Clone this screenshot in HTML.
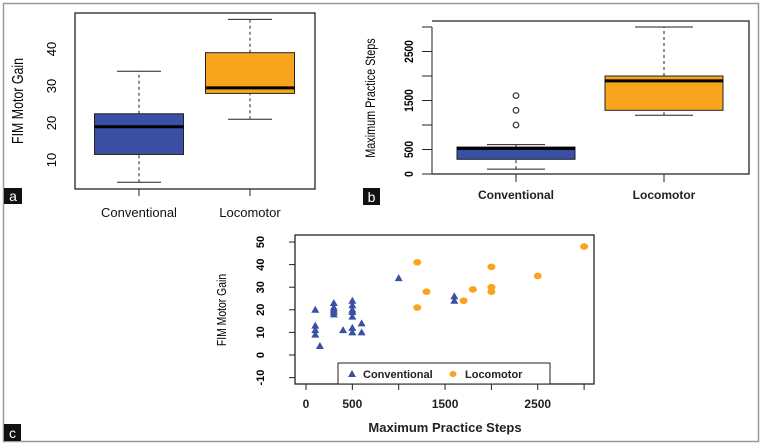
<!DOCTYPE html>
<html><head><meta charset="utf-8"><style>
body{margin:0;background:#fff}
svg{display:block;font-family:"Liberation Sans",sans-serif}
</style></head><body>
<svg id="s" width="763" height="446" viewBox="0 0 763 446">
<rect x="3.5" y="3.5" width="755" height="438" fill="#fff" stroke="#999" stroke-width="1.5"/>
</svg>
<script>
// Panel a data
const catsA = ["Conventional","Locomotor"];
const statsA = [[4,11.5,19,22.5,34],[21,28,29.5,39,48]];
const ticksA = [10,20,30,40];
// Panel b data
const catsB = ["Conventional","Locomotor"];
const statsB = [[100,300,520,550,600],[1200,1300,1900,2000,3000]];
const outliersB = [[1000,1300,1600],[]];
const ticksB = [0,500,1500,2500];
// Panel c data
const convX = [100,100,100,100,150,300,300,300,300,300,400,500,500,500,500,500,500,500,600,600,1000,1600,1600];
const convY = [20,13,11,9,4,23,21,20,19,18,11,24,22,20,19,17,12,10,14,10,34,26,24];
const locoX = [1200,1200,1300,1700,1800,2000,2000,2000,2500,3000];
const locoY = [41,21,28,24,29,39,30,28,35,48];
const ticksCx = [0,500,1500,2500];
const ticksCxMarks = [0,500,1000,1500,2000,2500,3000];
const ticksCy = [-10,0,10,20,30,40,50];

const colors=["#3a50a4","#f8a51d"];
const s=document.getElementById('s');
const NS="http://www.w3.org/2000/svg";
function el(t,a,name,txt){const e=document.createElementNS(NS,t);for(const k in a)e.setAttribute(k,a[k]);


if(txt!==undefined)e.textContent=txt;s.appendChild(e);return e;}

// ---- Panel a ----
const yA=v=>160-(v-10)*3.7;
const cxA=[139,250];
el('rect',{x:75,y:13,width:240,height:176,fill:'none',stroke:'#222','stroke-width':1.3},'plot-a-frame');
catsA.forEach((c,i)=>{const st=statsA[i],cx=cxA[i];
 el('line',{x1:cx,x2:cx,y1:yA(st[0]),y2:yA(st[1]),stroke:'#222','stroke-dasharray':'3,3'},'whisker-low-'+i);
 el('line',{x1:cx,x2:cx,y1:yA(st[3]),y2:yA(st[4]),stroke:'#222','stroke-dasharray':'3,3'},'whisker-high-'+i);
 el('line',{x1:cx-22,x2:cx+22,y1:yA(st[0]),y2:yA(st[0]),stroke:'#222'},'whisker-cap-low-'+i);
 el('line',{x1:cx-22,x2:cx+22,y1:yA(st[4]),y2:yA(st[4]),stroke:'#222'},'whisker-cap-high-'+i);
 el('rect',{x:cx-44.5,y:yA(st[3]),width:89,height:yA(st[1])-yA(st[3]),fill:colors[i],stroke:'#222'},'box-a-'+c.toLowerCase());
 el('line',{x1:cx-44.5,x2:cx+44.5,y1:yA(st[2]),y2:yA(st[2]),stroke:'#000','stroke-width':3},'median-a-'+i);
 el('line',{x1:cx,x2:cx,y1:189,y2:196,stroke:'#222'},'x-tick-a-'+i);
 el('text',{x:cx,y:217,'text-anchor':'middle','font-size':13,fill:'#111'},'x-label-a-'+i,c);
});
ticksA.forEach(t=>{el('text',{x:0,y:0,transform:`translate(56,${yA(t)}) rotate(-90)`,'text-anchor':'middle','font-size':13},'y-tick-a',t);});
el('text',{x:0,y:0,transform:'translate(23,101) rotate(-90) scale(0.8,1)','text-anchor':'middle','font-size':15.5},'y-axis-title-a','FIM Motor Gain');
el('rect',{x:4,y:188,width:18,height:16,fill:'#111'},'panel-a-badge');
el('text',{x:13,y:201,'text-anchor':'middle','font-size':14,fill:'#fff'},'panel-a-label','a');

// ---- Panel b ----
const yB=v=>174-v*0.049;
const cxB=[516,664];
el('polyline',{points:'432,21 749,21 749,174 432,174',fill:'none',stroke:'#222','stroke-width':1.3},'plot-b-frame');
el('line',{x1:432,x2:432,y1:yB(0),y2:yB(3000),stroke:'#222'},'y-axis-b');
[0,500,1000,1500,2000,2500,3000].forEach(t=>el('line',{x1:422,x2:432,y1:yB(t),y2:yB(t),stroke:'#222'},'y-tick-mark-b'));
ticksB.forEach(t=>{el('text',{x:0,y:0,transform:`translate(413,${yB(t)}) rotate(-90) scale(0.85,1)`,'text-anchor':'middle','font-size':12,'font-weight':'bold'},'y-tick-b',t);});
catsB.forEach((c,i)=>{const st=statsB[i],cx=cxB[i];
 el('line',{x1:cx,x2:cx,y1:yB(st[0]),y2:yB(st[1]),stroke:'#222','stroke-dasharray':'3,3'},'whisker-b-low-'+i);
 el('line',{x1:cx,x2:cx,y1:yB(st[3]),y2:yB(st[4]),stroke:'#222','stroke-dasharray':'3,3'},'whisker-b-high-'+i);
 el('line',{x1:cx-29,x2:cx+29,y1:yB(st[0]),y2:yB(st[0]),stroke:'#222'},'whisker-b-cap-low-'+i);
 el('line',{x1:cx-29,x2:cx+29,y1:yB(st[4]),y2:yB(st[4]),stroke:'#222'},'whisker-b-cap-high-'+i);
 el('rect',{x:cx-59,y:yB(st[3]),width:118,height:yB(st[1])-yB(st[3]),fill:colors[i],stroke:'#222'},'box-b-'+c.toLowerCase());
 el('line',{x1:cx-59,x2:cx+59,y1:yB(st[2]),y2:yB(st[2]),stroke:'#000','stroke-width':3},'median-b-'+i);
 outliersB[i].forEach(o=>el('circle',{cx:cx,cy:yB(o),r:2.8,fill:'none',stroke:'#333','stroke-width':1.2},'outlier-b'));
 el('line',{x1:cx,x2:cx,y1:174,y2:182,stroke:'#222'},'x-tick-b-'+i);
 el('text',{x:cx,y:199,'text-anchor':'middle','font-size':12,'font-weight':'bold',fill:'#222'},'x-label-b-'+i,c);
});
el('text',{x:0,y:0,transform:'translate(375,98) rotate(-90) scale(0.8,1)','text-anchor':'middle','font-size':13.5},'y-axis-title-b','Maximum Practice Steps');
el('rect',{x:363,y:188,width:17,height:17,fill:'#111'},'panel-b-badge');
el('text',{x:371.5,y:202,'text-anchor':'middle','font-size':14,fill:'#fff'},'panel-b-label','b');

// ---- Panel c ----
const xC=v=>306+v*0.0927;
const yC=v=>355-v*2.26;
el('rect',{x:295,y:235,width:299,height:149,fill:'none',stroke:'#222','stroke-width':1.3},'plot-c-frame');
ticksCxMarks.forEach(t=>el('line',{x1:xC(t),x2:xC(t),y1:384,y2:390,stroke:'#222'},'x-tick-mark-c'));
ticksCx.forEach(t=>el('text',{x:xC(t),y:408,'text-anchor':'middle','font-size':12,'font-weight':'bold',fill:'#222'},'x-tick-c',t));
ticksCy.forEach(t=>{el('line',{x1:289,x2:295,y1:yC(t),y2:yC(t),stroke:'#222'},'y-tick-mark-c');
 el('text',{x:0,y:0,transform:`translate(264,${yC(t)}) rotate(-90)`,'text-anchor':'middle','font-size':11,'font-weight':'bold'},'y-tick-c',t);});
el('text',{x:0,y:0,transform:'translate(226,310) rotate(-90) scale(0.8,1)','text-anchor':'middle','font-size':13},'y-axis-title-c','FIM Motor Gain');
el('text',{x:445,y:432,'text-anchor':'middle','font-size':13,'font-weight':'bold',fill:'#222'},'x-axis-title-c','Maximum Practice Steps');
convX.forEach((x,i)=>{const px=xC(x),py=yC(convY[i]);
 el('polygon',{points:`${px},${py-4} ${px-4},${py+3} ${px+4},${py+3}`,fill:colors[0]},'point-conventional');});
locoX.forEach((x,i)=>{el('ellipse',{cx:xC(x),cy:yC(locoY[i]),rx:4,ry:3.3,fill:colors[1]},'point-locomotor');});
el('rect',{x:338,y:363,width:212,height:21,fill:'#fff',stroke:'#222'},'legend-box');
el('polygon',{points:'352,370 348,377 356,377',fill:colors[0]},'legend-marker-conventional');
el('text',{x:363,y:378,'font-size':11,'font-weight':'bold',fill:'#222'},'legend-entry-conventional','Conventional');
el('ellipse',{cx:453,cy:374,rx:3.5,ry:3,fill:colors[1]},'legend-marker-locomotor');
el('text',{x:465,y:378,'font-size':11,'font-weight':'bold',fill:'#222'},'legend-entry-locomotor','Locomotor');
el('rect',{x:4,y:424,width:17,height:17,fill:'#111'},'panel-c-badge');
el('text',{x:12.5,y:438,'text-anchor':'middle','font-size':14,fill:'#fff'},'panel-c-label','c');
</script>
</body></html>
